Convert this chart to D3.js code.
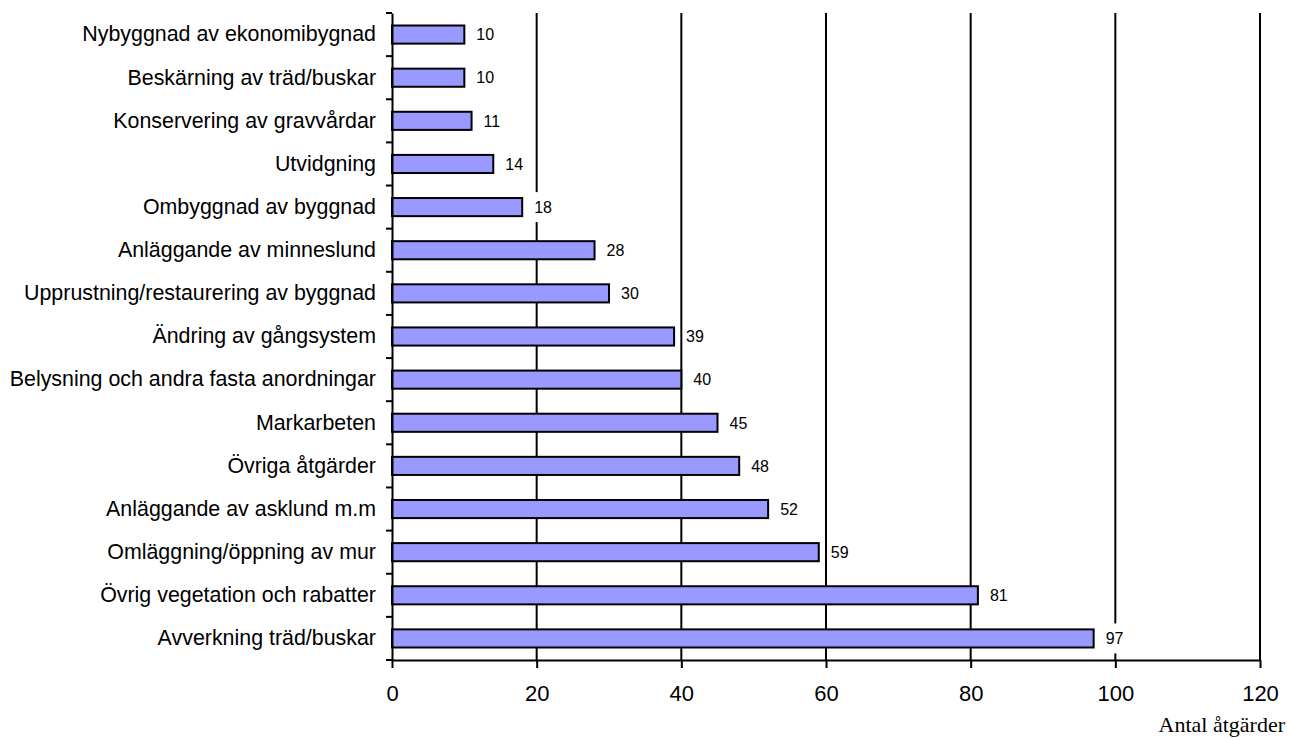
<!DOCTYPE html>
<html>
<head>
<meta charset="utf-8">
<script src="https://cdn.jsdelivr.net/npm/d3@7"></script>
<style>
  html, body { margin: 0; padding: 0; background: #fff; }
  svg { display: block; }
</style>
</head>
<body>
<svg id="chart" width="1293" height="738"></svg>
<script>
const categories = [
  "Nybyggnad av ekonomibygnad",
  "Beskärning av träd/buskar",
  "Konservering av gravvårdar",
  "Utvidgning",
  "Ombyggnad av byggnad",
  "Anläggande av minneslund",
  "Upprustning/restaurering av byggnad",
  "Ändring av gångsystem",
  "Belysning och andra fasta anordningar",
  "Markarbeten",
  "Övriga åtgärder",
  "Anläggande av asklund m.m",
  "Omläggning/öppning av mur",
  "Övrig vegetation och rabatter",
  "Avverkning träd/buskar"
];
const values = [10, 10, 11, 14, 18, 28, 30, 39, 40, 45, 48, 52, 59, 81, 97];
const xTicks = [0, 20, 40, 60, 80, 100, 120];
const xTitle = "Antal åtgärder";

(function () {
const svg = d3.select("#chart");
const pLeft = 392, pRight = 1260, pTop = 13, pBottom = 660;

const x = d3.scaleLinear().domain([0, 120]).range([pLeft, pRight]);
const y = d3.scaleBand().domain(categories).range([pTop, pBottom]).paddingInner(0).paddingOuter(0);
const bh = y.bandwidth() * 0.42;

// gridlines
svg.append("g").selectAll("line").data(xTicks.filter(d => d > 0)).join("line")
  .attr("x1", d => x(d)).attr("x2", d => x(d))
  .attr("y1", pTop).attr("y2", pBottom)
  .attr("stroke", "#000").attr("stroke-width", 2);

// bars
svg.append("g").selectAll("rect").data(values).join("rect")
  .attr("x", x(0))
  .attr("y", (d, i) => y(categories[i]) + y.bandwidth() / 2 - bh / 2)
  .attr("width", d => x(d) - x(0))
  .attr("height", bh)
  .attr("fill", "#9999FF")
  .attr("stroke", "#000")
  .attr("stroke-width", 2);

// value labels with white background
const lab = svg.append("g").selectAll("g").data(values).join("g")
  .attr("transform", (d, i) => `translate(${x(d) + 12},${y(categories[i]) + y.bandwidth() / 2})`);
lab.append("rect")
  .attr("x", -3).attr("y", -15)
  .attr("width", d => String(d).length * 9 + 6)
  .attr("height", 30)
  .attr("fill", "#fff");
lab.append("text")
  .attr("x", 0).attr("y", 0)
  .attr("dy", "0.36em")
  .attr("font-family", "Liberation Sans, Arial, sans-serif")
  .attr("font-size", 16)
  .attr("fill", "#000")
  .text(d => d);

// x axis
const xAxis = d3.axisBottom(x).tickValues(xTicks).tickSize(8).tickSizeOuter(0).tickFormat(d3.format("d"));
const gx = svg.append("g").attr("transform", `translate(0,${pBottom})`).call(xAxis);
gx.select(".domain").attr("stroke", "#000").attr("stroke-width", 2);
gx.selectAll(".tick line").attr("stroke", "#000").attr("stroke-width", 2);
gx.selectAll(".tick text")
  .attr("font-family", "Liberation Sans, Arial, sans-serif")
  .attr("font-size", 22).attr("fill", "#000")
  .attr("y", 25).attr("dy", "0.71em");

// y axis
const yAxis = d3.axisLeft(y).tickSize(0).tickPadding(16);
const gy = svg.append("g").attr("transform", `translate(${pLeft},0)`).call(yAxis);
gy.select(".domain").attr("stroke", "#000").attr("stroke-width", 2);
gy.selectAll(".tick text")
  .attr("font-family", "Liberation Sans, Arial, sans-serif")
  .attr("font-size", 21.4).attr("fill", "#000");

// y boundary ticks
const bounds = categories.map(c => y(c)).concat([pBottom]);
svg.append("g").selectAll("line").data(bounds).join("line")
  .attr("x1", pLeft - 6).attr("x2", pLeft)
  .attr("y1", d => d).attr("y2", d => d)
  .attr("stroke", "#000").attr("stroke-width", 2);

// axis title
svg.append("text")
  .attr("x", 1285).attr("y", 732)
  .attr("text-anchor", "end")
  .attr("font-family", "Liberation Serif, Times New Roman, serif")
  .attr("font-size", 22)
  .attr("fill", "#000")
  .text(xTitle);
})();
</script>
</body>
</html>
